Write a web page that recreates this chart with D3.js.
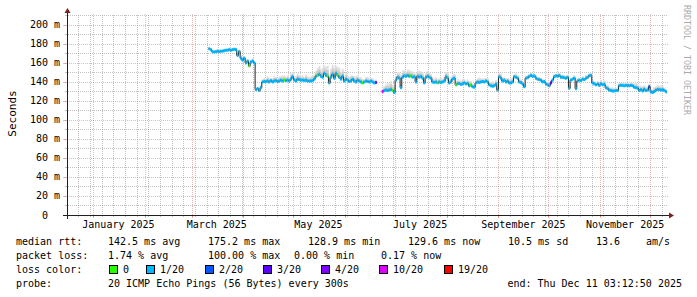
<!DOCTYPE html>
<html>
<head>
<meta charset="utf-8">
<script src="https://cdn.jsdelivr.net/npm/d3@7"></script>
<style>
body { margin: 0; background: #fff; }
svg text { font-family: "DejaVu Sans Mono", monospace; }
</style>
</head>
<body>
<div id="chart"></div>
<script>
/*
  DATA: daily median rtt (ms), smoke spread above median (ms), loss levels
*/
var graphEnd = new Date(2025, 11, 11, 3, 12, 50);
var graphDays = 360;
var firstDay = new Date(2025, 2, 11);

var median = [
  // Mar 11 ->
  175,174,172,171.5,172,172.5,172,172.5,172.5,173,173.5,173.5,174,173.5,174,174.5,174,168,
  172,165,163,165,160,162,157,161,162,160,
  132,133,131,134,
  140,140.5,140.5,141,140,141.5,140,141,141.5,140.5,141,142,141,142,141.5,142,141,143,145.5,142,141,143,142.5,142,142,141.5,142,141,141,141,141.5,143,
  146,147,148,146,145,149,147,146,139,145,148,144,149,147,145,143,146,
  141,143,142,140.5,141,143,141,140,142,141,140,139,140,141,140.5,140,141,140,139,139.5,
  null,null,null,
  130,131,131.5,131,131.5,132,131,129,
  142,145,144,134,145,146.5,146,147,146,146.5,145,145.5,140,146,145,146,144,139,145,146,145,144,140,139.5,140,139,
  140,139.5,140,141,145.5,144,139,140,143,144,137,138,138.5,137.5,138,139,138,138.5,136,137,
  135,134.5,139,140,139.5,140,140.5,140,141,140,137,136,135.5,136,138,131.5,145.5,144,141,142,
  140,141,139,139,140,145.5,145,144,140,139.5,
  138,135,144,144.5,146,147,146,146.5,144,143,142.5,142,140,140.5,138,137,136,139,142,145.5,
  146.5,146,147,145,145,144.5,144,145,133.5,142,143,144,133,141,142,141.5,143,142.5,144,145,
  146.5,147,139,138,137,138,136.5,138,
  137,137.5,134,133,131.5,131,130.5,130.5,131,131,136,136.5,136.5,136,136.5,136.5,136,136.5,136,134.5,
  134,133.5,131,132,130.5,132.5,131,131.5,135,129.5,129,130,131.5,132,132,131.5,132,131,129.6
];

var smokeUp = [
  1,1,1,1,1,2,1,1,1,2,1,1,2,1,1,1,2,3,
  2,3,2,2,3,2,2,2,3,2,
  2,2,3,3,
  3,4,3,5,4,3,4,5,4,3,5,4,6,5,4,5,4,6,5,4,5,6,5,4,5,4,6,5,4,5,6,5,
  6,8,9,7,10,8,9,11,8,9,10,12,8,9,10,7,8,
  5,6,4,5,6,4,5,6,5,4,5,4,3,4,5,4,3,4,3,3,
  0,0,0,
  3,5,6,8,7,9,6,8,
  4,5,6,4,7,6,5,6,7,5,6,5,4,6,7,5,6,5,4,6,5,4,5,4,5,4,
  4,5,3,4,5,6,4,5,4,5,4,5,3,4,5,4,3,4,5,4,3,4,3,4,5,4,3,4,3,4,3,4,5,3,4,3,4,5,4,3,4,3,4,5,4,3,4,3,4,3,
  2,3,2,3,2,3,2,2,3,2,3,2,3,2,2,3,2,3,2,3,2,3,2,2,3,2,3,2,3,2,2,3,2,3,2,2,3,2,3,2,3,2,3,3,2,3,3,4,
  3,4,3,4,3,3,4,3,3,2,3,3,2,3,2,3,2,3,3,4,5,4,5,4,5,4,3,4,3,3,4,5,4,5,4,5,4,3,3
];

// days (index into median) whose loss is not 1/20
var lossDay   = [24, 45, 65, 71, 77, 92, 100, 104, 110, 121, 137, 148, 157, 205, 264];
var lossLevel = [ 0,  0,  0,  0,  0,  0,   4,  10,   0,   0,   0,   0,   0,   3,   2];

var lossSteps  = [0, 1, 2, 3, 4, 10, 19];
var lossLabels = ["0", "1/20", "2/20", "3/20", "4/20", "10/20", "19/20"];
var lossColors = ["#26ff00", "#00b8ff", "#0059ff", "#5e00ff", "#7e00ff", "#dd00ff", "#ff0000"];

var yMajor = [0, 20, 40, 60, 80, 100, 120, 140, 160, 180, 200];
var yMinor = [10, 30, 50, 70, 90, 110, 130, 150, 170, 190, 210];

var rttStats  = ["142.5 ms avg", "175.2 ms max", "128.9 ms min", "129.6 ms now", "10.5 ms sd", "13.6", "am/s"];
var lossStats = ["1.74 % avg", "100.00 % max", "0.00 % min", "0.17 % now"];
var probeText = "20 ICMP Echo Pings (56 Bytes) every 300s";
var endText   = "end: Thu Dec 11 03:12:50 2025";

/*
  LAYOUT
*/
var W = 697, H = 297;
var x0 = 67, xsize = 600, y0 = 215, ysize = 200;
var gridCol = "rgba(143,143,143,0.55)", mgridCol = "rgba(222,79,79,0.42)";
var axisCol = "#1f1f1f", arrowCol = "#801f1f";

var graphStart = d3.timeDay.offset(graphEnd, -graphDays);
var xScale = d3.scaleTime().domain([graphStart, graphEnd]).range([x0, x0 + xsize]);
var yScale = d3.scaleLinear().domain([0, 210.5]).range([y0, y0 - ysize]);

var svg = d3.select("#chart").append("svg")
    .attr("width", W).attr("height", H)
    .style("display", "block");
svg.append("rect").attr("width", W).attr("height", H).attr("fill", "#fff");

function px(v) { return Math.round(v) + 0.5; }

// grid
var grid = svg.append("g").attr("shape-rendering", "crispEdges");
yMinor.forEach(function(v) {
  var y = px(yScale(v));
  grid.append("line").attr("x1", x0 - 1).attr("x2", x0 + xsize + 1).attr("y1", y).attr("y2", y)
    .attr("stroke", gridCol).attr("stroke-dasharray", "1,1");
  grid.append("line").attr("x1", x0 - 2).attr("x2", x0 - 1).attr("y1", y).attr("y2", y).attr("stroke", gridCol);
});
yMajor.forEach(function(v) {
  var y = px(yScale(v));
  grid.append("line").attr("x1", x0 - 2).attr("x2", x0 + xsize + 2).attr("y1", y).attr("y2", y)
    .attr("stroke", mgridCol).attr("stroke-dasharray", "1,1");
  grid.append("line").attr("x1", x0 - 4).attr("x2", x0).attr("y1", y).attr("y2", y).attr("stroke", mgridCol);
});

var months = d3.timeMonth.range(d3.timeMonth.ceil(graphStart), graphEnd);
var weeks = d3.timeMonday.range(graphStart, graphEnd).filter(function(d) { return d.getDate() !== 1; });
weeks.forEach(function(d) {
  var x = px(xScale(d));
  grid.append("line").attr("x1", x).attr("x2", x).attr("y1", y0 + 1).attr("y2", y0 - ysize - 1)
    .attr("stroke", gridCol).attr("stroke-dasharray", "1,1");
  grid.append("line").attr("x1", x).attr("x2", x).attr("y1", y0 + 2).attr("y2", y0 + 1).attr("stroke", gridCol);
});
months.forEach(function(d) {
  var x = px(xScale(d));
  grid.append("line").attr("x1", x).attr("x2", x).attr("y1", y0 + 2).attr("y2", y0 - ysize - 2)
    .attr("stroke", mgridCol).attr("stroke-dasharray", "1,1");
  grid.append("line").attr("x1", x).attr("x2", x).attr("y1", y0 + 3).attr("y2", y0).attr("stroke", mgridCol);
});

// data records
var days = median.map(function(v, i) {
  var k = lossDay.indexOf(i);
  var level = k < 0 ? 1 : lossLevel[k];
  return {
    start: d3.timeDay.offset(firstDay, i),
    end: d3.timeDay.offset(firstDay, i + 1),
    v: v,
    up: smokeUp[i],
    color: lossColors[lossSteps.indexOf(level)]
  };
});
var valid = days.filter(function(d) { return d.v !== null; });

// smoke
var smoke = svg.append("g");
var smokeLayers = [[1, "#e0e0e0"], [0.6, "#cbcbcb"], [0.3, "#b4b4b4"]];
smokeLayers.forEach(function(layer) {
  smoke.selectAll(null).data(valid).enter().append("rect")
    .attr("x", function(d) { return xScale(d.start); })
    .attr("width", function(d) { return xScale(d.end) - xScale(d.start) + 0.3; })
    .attr("y", function(d) { return yScale(d.v + d.up * layer[0]); })
    .attr("height", function(d) { return yScale(d.v) - yScale(d.v + d.up * layer[0]) + 1; })
    .attr("fill", layer[1]);
});

// median line (step)
var pts = [];
days.forEach(function(d) {
  pts.push({t: d.start, v: d.v});
  pts.push({t: d.end, v: d.v});
});
svg.append("path")
  .datum(pts)
  .attr("fill", "none")
  .attr("stroke", "#202020")
  .attr("stroke-width", 1)
  .attr("d", d3.line()
    .defined(function(d) { return d.v !== null; })
    .x(function(d) { return xScale(d.t); })
    .y(function(d) { return yScale(d.v); }));

// loss coloured band
svg.append("g").selectAll("rect").data(valid).enter().append("rect")
  .attr("x", function(d) { return xScale(d.start); })
  .attr("width", function(d) { return xScale(d.end) - xScale(d.start); })
  .attr("y", function(d) { return yScale(d.v) - 1.5; })
  .attr("height", 3)
  .attr("fill", function(d) { return d.color; });

// axes
svg.append("line").attr("x1", x0 - 4).attr("x2", x0 + xsize + 4).attr("y1", y0 + 0.5).attr("y2", y0 + 0.5).attr("stroke", axisCol);
svg.append("line").attr("x1", x0 + 0.5).attr("x2", x0 + 0.5).attr("y1", y0 + 4).attr("y2", y0 - ysize - 4).attr("stroke", axisCol);
svg.append("path").attr("fill", arrowCol)
  .attr("d", "M" + (x0 + xsize + 2) + "," + (y0 - 2.5) + "L" + (x0 + xsize + 2) + "," + (y0 + 3.5) + "L" + (x0 + xsize + 7) + "," + (y0 + 0.5) + "Z");
svg.append("path").attr("fill", arrowCol)
  .attr("d", "M" + (x0 - 2.5) + "," + (y0 - ysize - 2) + "L" + (x0 + 3.5) + "," + (y0 - ysize - 2) + "L" + (x0 + 0.5) + "," + (y0 - ysize - 7) + "Z");

// tick labels
var labels = svg.append("g").attr("font-size", "10px").attr("fill", "#000");
yMajor.forEach(function(v) {
  labels.append("text")
    .attr("x", v === 0 ? 45 : 60)
    .attr("y", yScale(v) + 3.5)
    .attr("text-anchor", v === 0 ? "middle" : "end")
    .text(v === 0 ? "0" : v + " m");
});
var fmtMonth = d3.timeFormat("%B %Y");
d3.timeMonth.every(2).range(d3.timeMonth.ceil(graphStart), graphEnd).forEach(function(d) {
  var xm = xScale(d3.timeDay.offset(d, 15));
  if (xm > x0 + xsize) return;
  labels.append("text").attr("x", xm).attr("y", 228)
    .attr("text-anchor", "middle").text(fmtMonth(d));
});

// y title and watermark
svg.append("text").attr("transform", "translate(15.5,113.5) rotate(-90)")
  .attr("text-anchor", "middle").attr("font-size", "11px").text("Seconds");
svg.append("text").attr("transform", "translate(684,5) rotate(90)")
  .attr("font-size", "8.3px").attr("fill", "#aaaaaa").text("RRDTOOL / TOBI OETIKER");

// legend
var legend = svg.append("g").attr("font-size", "10px").attr("fill", "#000");
var rttX = [108, 208, 308, 408, 508, 596, 646];
legend.append("text").attr("x", 16).attr("y", 245).text("median rtt:");
rttStats.forEach(function(s, i) { legend.append("text").attr("x", rttX[i]).attr("y", 245).text(s); });

var lossX = [108, 208, 294, 381];
legend.append("text").attr("x", 16).attr("y", 259).text("packet loss:");
lossStats.forEach(function(s, i) { legend.append("text").attr("x", lossX[i]).attr("y", 259).text(s); });

var boxX = [109, 146, 205, 263, 321, 379, 444];
legend.append("text").attr("x", 16).attr("y", 273).text("loss color:");
lossLabels.forEach(function(s, i) {
  legend.append("rect").attr("x", boxX[i] + 0.5).attr("y", 265.5).attr("width", 8).attr("height", 8)
    .attr("fill", lossColors[i]).attr("stroke", "#000");
  legend.append("text").attr("x", boxX[i] + 14).attr("y", 273).text(s);
});

legend.append("text").attr("x", 16).attr("y", 287).text("probe:");
legend.append("text").attr("x", 108).attr("y", 287).text(probeText);
legend.append("text").attr("x", 682).attr("y", 287).attr("text-anchor", "end").text(endText);
</script>
</body>
</html>
